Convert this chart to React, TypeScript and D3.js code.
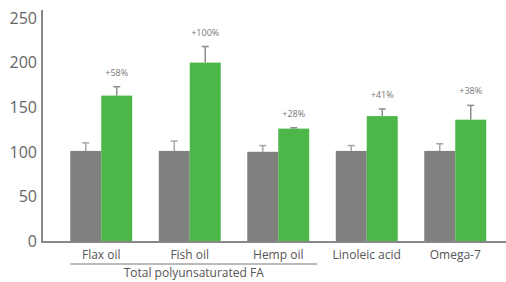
import { useEffect, useRef } from "react";
import * as d3 from "d3";

const categories = ["Flax oil", "Fish oil", "Hemp oil", "Linoleic acid", "Omega-7"];
const controlValues = [101, 101, 100, 101, 101];
const controlErrors = [110, 112, 107, 107, 109];
const treatedValues = [163, 200, 126, 140, 136];
const treatedErrors = [173, 218, 127, 148, 152];
const changeLabels = ["+58%", "+100%", "+28%", "+41%", "+38%"];
const yTicks = [0, 50, 100, 150, 200, 250];
const groupLabel = "Total polyunsaturated FA";
const groupMembers = ["Flax oil", "Fish oil", "Hemp oil"];

const App = () => {
  const chartRef = useRef<SVGSVGElement>(null);

  useEffect(() => {
    const width = 506;
    const axisX = 42;
    const font = "'Open Sans', sans-serif";

    const svg = d3.select(chartRef.current);
    svg.selectAll("*").remove();

    const x = d3
      .scaleBand()
      .domain(categories)
      .range([57, 499.5])
      .paddingInner(0.3)
      .paddingOuter(0.15);

    const y = d3.scaleLinear().domain([0, 250]).range([241, 18]);

    const sub = d3
      .scaleBand()
      .domain(["control", "treated"])
      .range([0, x.bandwidth()]);

    const series = [
      { key: "control", values: controlValues, errors: controlErrors, color: "#808080", errColor: "#a6a6a6" },
      { key: "treated", values: treatedValues, errors: treatedErrors, color: "#4cb648", errColor: "#8c8c8c" },
    ];

    series.forEach((s) => {
      const g = svg.append("g");
      const cx = (d: string) => x(d)! + sub(s.key)! + sub.bandwidth() / 2;
      g.selectAll("line.err")
        .data(categories)
        .join("line")
        .attr("class", "err")
        .attr("x1", cx)
        .attr("x2", cx)
        .attr("y1", (_, i) => y(s.values[i]))
        .attr("y2", (_, i) => y(s.errors[i]))
        .attr("stroke", s.errColor)
        .attr("stroke-width", 1.5);
      g.selectAll("line.cap")
        .data(categories)
        .join("line")
        .attr("class", "cap")
        .attr("x1", (d) => cx(d) - 3.5)
        .attr("x2", (d) => cx(d) + 3.5)
        .attr("y1", (_, i) => y(s.errors[i]))
        .attr("y2", (_, i) => y(s.errors[i]))
        .attr("stroke", s.errColor)
        .attr("stroke-width", 1.5);
      g.selectAll("rect")
        .data(categories)
        .join("rect")
        .attr("x", (d) => x(d)! + sub(s.key)!)
        .attr("y", (_, i) => y(s.values[i]))
        .attr("width", sub.bandwidth())
        .attr("height", (_, i) => y(0) - y(s.values[i]))
        .attr("fill", s.color);
    });

    // percentage labels above treated error bars
    svg
      .append("g")
      .selectAll("text")
      .data(categories)
      .join("text")
      .attr("x", (d) => x(d)! + sub("treated")! + sub.bandwidth() / 2)
      .attr("y", (_, i) => y(treatedErrors[i]) - 11)
      .attr("text-anchor", "middle")
      .attr("font-family", font)
      .attr("font-size", 9)
      .attr("fill", "#777")
      .text((_, i) => changeLabels[i]);

    // axes
    svg
      .append("line")
      .attr("x1", axisX)
      .attr("x2", axisX)
      .attr("y1", 10)
      .attr("y2", y(0) + 1)
      .attr("stroke", "#888")
      .attr("stroke-width", 2);
    svg
      .append("line")
      .attr("x1", axisX - 1)
      .attr("x2", width)
      .attr("y1", y(0) + 1)
      .attr("y2", y(0) + 1)
      .attr("stroke", "#888")
      .attr("stroke-width", 2);

    svg
      .append("g")
      .selectAll("text")
      .data(yTicks)
      .join("text")
      .attr("x", axisX - 5)
      .attr("y", (d) => y(d))
      .attr("dy", "0.36em")
      .attr("text-anchor", "end")
      .attr("font-family", font)
      .attr("font-size", 16)
      .attr("fill", "#666")
      .text((d) => d);

    svg
      .append("g")
      .selectAll("text")
      .data(categories)
      .join("text")
      .attr("x", (d) => x(d)! + x.bandwidth() / 2)
      .attr("y", 255)
      .attr("dy", "0.35em")
      .attr("text-anchor", "middle")
      .attr("font-family", font)
      .attr("font-size", 12)
      .attr("fill", "#555")
      .text((d) => d);

    const gx0 = x(groupMembers[0])!;
    const gx1 = x(groupMembers[groupMembers.length - 1])! + x.bandwidth() + 8;
    svg
      .append("line")
      .attr("x1", gx0)
      .attr("x2", gx1)
      .attr("y1", 264)
      .attr("y2", 264)
      .attr("stroke", "#777")
      .attr("stroke-width", 1);
    svg
      .append("text")
      .attr("x", (gx0 + gx1) / 2)
      .attr("y", 273)
      .attr("dy", "0.35em")
      .attr("text-anchor", "middle")
      .attr("font-family", font)
      .attr("font-size", 12)
      .attr("fill", "#555")
      .text(groupLabel);
  }, []);

  return (
    <svg
      ref={chartRef}
      width={506}
      height={282}
      style={{ position: "absolute", left: 0, top: 0, background: "#fff" }}
    />
  );
};

export default App;
